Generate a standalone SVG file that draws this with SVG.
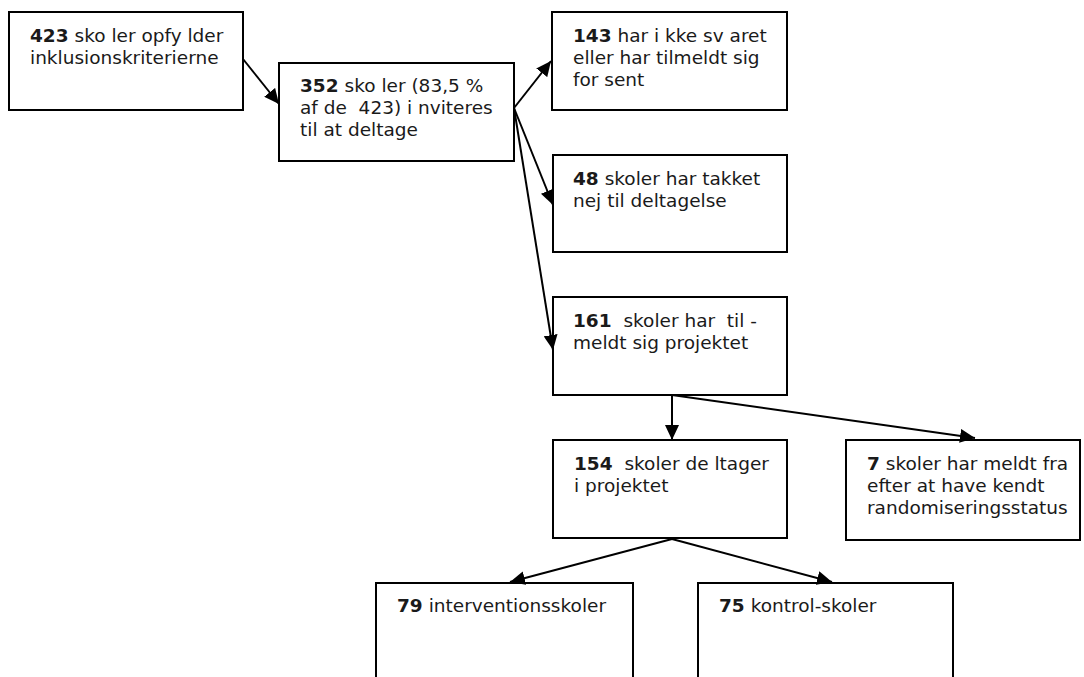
<svg xmlns="http://www.w3.org/2000/svg" width="1084" height="677" viewBox="0 0 1084 677">
<style>
.box{fill:#fff;stroke:#000;stroke-width:2}
.t{font-family:"DejaVu Sans",Verdana,sans-serif;font-size:18.5px;fill:#1a1a1a;white-space:pre}
.b{font-weight:bold}
.c{stroke:#000;stroke-width:2;fill:none;marker-end:url(#ah)}
</style>
<defs><marker id="ah" markerUnits="userSpaceOnUse" markerWidth="16" markerHeight="14" refX="15" refY="7" orient="auto"><path d="M0,0 L15,7 L0,14 z" fill="#000"/></marker></defs>
<rect width="1084" height="677" fill="#fff"/>
<g id="n1"><rect class="box" x="9" y="12" width="234" height="98"/><text class="t" x="30" y="42"><tspan class="b">423</tspan> sko ler opfy lder</text><text class="t" x="30" y="64">inklusionskriterierne</text></g>
<g id="n2"><rect class="box" x="279" y="63" width="235" height="98"/><text class="t" x="300" y="92"><tspan class="b">352</tspan> sko ler (83,5 %</text><text class="t" x="300" y="114">af de  423) i nviteres</text><text class="t" x="300" y="136">til at deltage</text></g>
<g id="n3"><rect class="box" x="552" y="12" width="235" height="98"/><text class="t" x="573" y="42"><tspan class="b">143</tspan> har i kke sv aret</text><text class="t" x="573" y="64">eller har tilmeldt sig</text><text class="t" x="573" y="86">for sent</text></g>
<g id="n4"><rect class="box" x="553" y="155" width="234" height="97"/><text class="t" x="573" y="185"><tspan class="b">48</tspan> skoler har takket</text><text class="t" x="573" y="207">nej til deltagelse</text></g>
<g id="n5"><rect class="box" x="553" y="297" width="234" height="98"/><text class="t" x="573" y="327"><tspan class="b">161</tspan>  skoler har  til -</text><text class="t" x="573" y="349">meldt sig projektet</text></g>
<g id="n6"><rect class="box" x="553" y="440" width="234" height="98"/><text class="t" x="574" y="470"><tspan class="b">154</tspan>  skoler de ltager</text><text class="t" x="574" y="492">i projektet</text></g>
<g id="n7"><rect class="box" x="846" y="440" width="234" height="100"/><text class="t" x="867" y="470"><tspan class="b">7</tspan> skoler har meldt fra</text><text class="t" x="867" y="492">efter at have kendt</text><text class="t" x="867" y="514">randomiseringsstatus</text></g>
<g id="n8"><rect class="box" x="376" y="583" width="257" height="130"/><text class="t" x="397" y="612"><tspan class="b">79</tspan> interventionsskoler</text></g>
<g id="n9"><rect class="box" x="698" y="583" width="255" height="130"/><text class="t" x="719" y="612"><tspan class="b">75</tspan> kontrol-skoler</text></g>
<g id="connectors">
<line class="c" x1="243" y1="59" x2="279" y2="104"/>
<line class="c" x1="514" y1="108" x2="551" y2="61"/>
<line class="c" x1="514" y1="108" x2="553" y2="205"/>
<line class="c" x1="514" y1="108" x2="553" y2="350"/>
<line class="c" x1="672" y1="395" x2="672" y2="440"/>
<line class="c" x1="672" y1="395" x2="975" y2="438"/>
<line class="c" x1="672" y1="539" x2="510" y2="582"/>
<line class="c" x1="672" y1="539" x2="832" y2="582"/>
</g>
</svg>
